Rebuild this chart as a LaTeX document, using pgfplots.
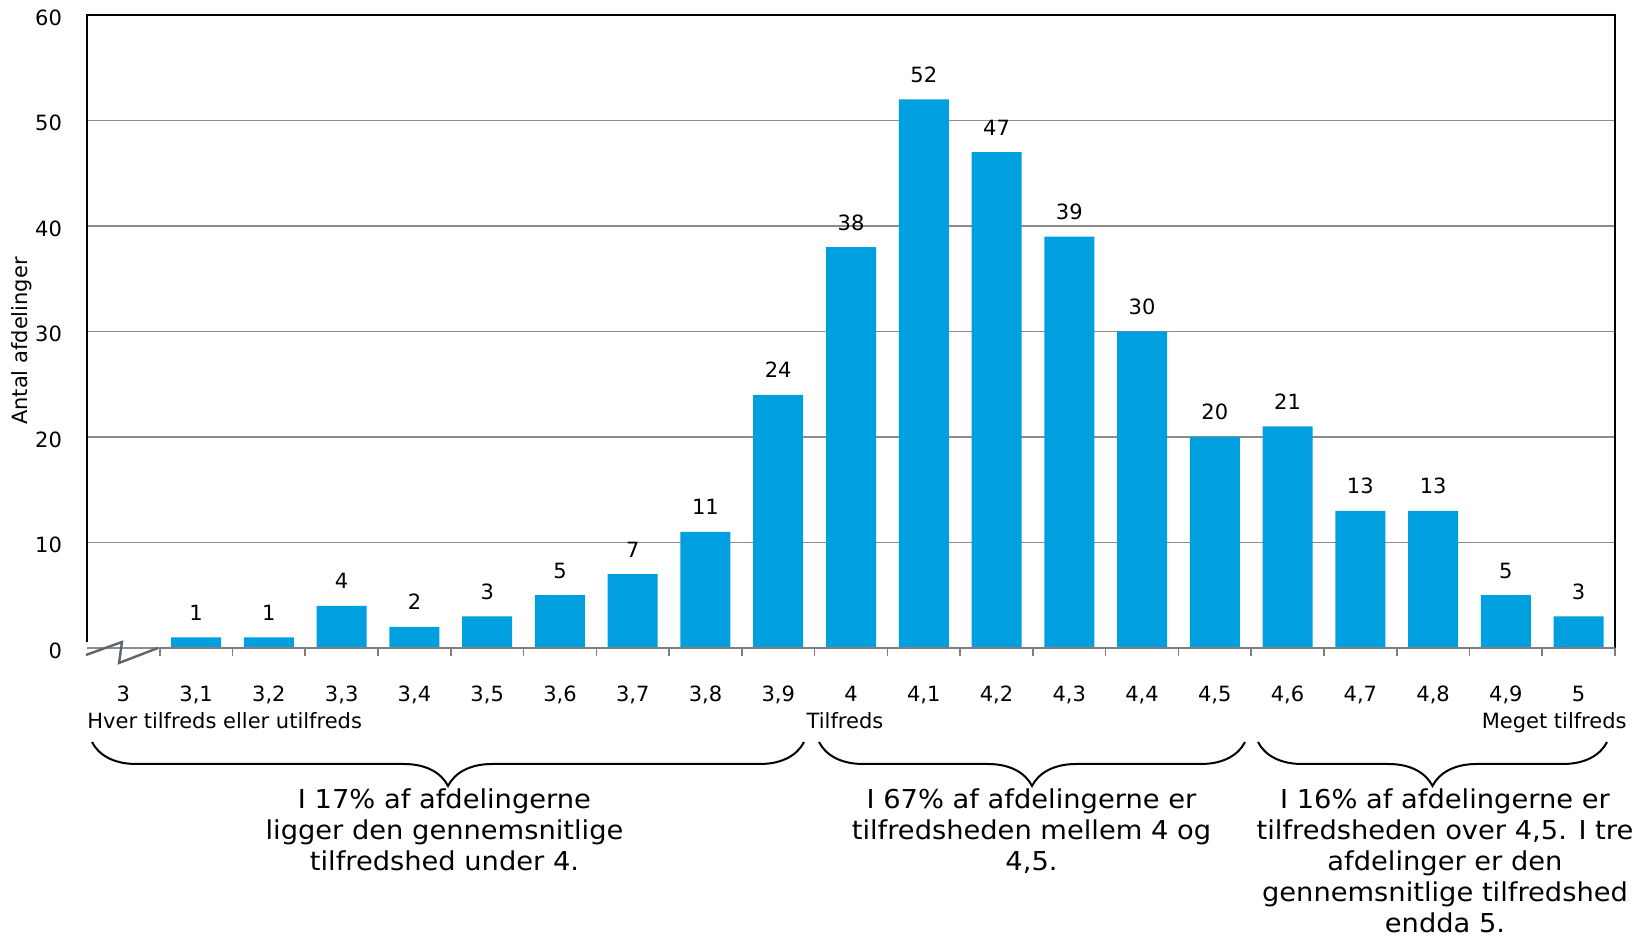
\documentclass[border=0pt]{standalone}
\usepackage{fontspec}
\setmainfont{DejaVu Sans}
\newfontfamily\widefont{DejaVu Sans}[FakeStretch=1.05]
\usepackage{pgfplots}
\pgfplotsset{compat=1.18}
\usetikzlibrary{decorations.pathreplacing}
\definecolor{barblue}{HTML}{009FDF}
\definecolor{gridgray}{HTML}{8C8C8C}
\definecolor{axgray}{HTML}{7F7F7F}
\definecolor{zig}{HTML}{5B6670}
\newcommand{\smallf}{\fontsize{10.5}{12}\selectfont}
\newcommand{\bigf}{\widefont\fontsize{13}{15}\selectfont}
\begin{document}
\begin{tikzpicture}
\useasboundingbox (-43.5pt,-146pt) rectangle (778pt,324pt);
\begin{axis}[
 name=ax,
 at={(0pt,0pt)}, anchor=south west,
 scale only axis, width=764pt, height=316.5pt,
 xmin=-0.5, xmax=20.5, ymin=0, ymax=60,
 ytick={0,10,...,60},
 ymajorgrids, grid style={gridgray, line width=0.8pt},
 axis line style={draw=none},
 xtick={0,...,20},
 xticklabels={3,{3,1},{3,2},{3,3},{3,4},{3,5},{3,6},{3,7},{3,8},{3,9},4,{4,1},{4,2},{4,3},{4,4},{4,5},{4,6},{4,7},{4,8},{4,9},5},
 minor xtick={0.5,1.5,...,20.5},
 major x tick style={draw=none},
 minor x tick style={axgray, line width=0.8pt},
 minor tick length=4pt,
 major tick length=0pt,
 tick align=outside,
 xtick pos=bottom,
 ytick pos=left,
 ytick style={draw=none},
 /pgf/number format/assume math mode=true,
 tick label style={font=\smallf, text=black},
 xticklabel style={anchor=base, yshift=-27pt},
 yticklabel style={anchor=east, xshift=-9pt, yshift=-1.2pt},
 ylabel={Antal afdelinger},
 ylabel style={at={(axis description cs:-0.0425,0.485)}, anchor=center, font=\smallf},
 clip=false,
 nodes near coords,
 every node near coord/.append style={anchor=base, yshift=8.5pt, font=\smallf, text=black},
]
\addplot[ybar, bar width=25pt, fill=barblue, draw=none] coordinates {
 (1,1) (2,1) (3,4) (4,2) (5,3) (6,5) (7,7) (8,11) (9,24) (10,38)
 (11,52) (12,47) (13,39) (14,30) (15,20) (16,21) (17,13) (18,13) (19,5) (20,3)};
\draw[black, line width=1pt] (axis cs:-0.5,0.6) -- (rel axis cs:0,1) -- (rel axis cs:1,1) -- (rel axis cs:1,0);
\draw[axgray, line width=1pt] (axis cs:0.5,0) -- (axis cs:20.5,0);
\draw[zig, line width=1.2pt] (axis cs:-0.514,-0.66) -- (axis cs:-0.019,0.57) -- (axis cs:-0.060,-1.42) -- (axis cs:0.476,0);
\end{axis}
% category descriptors
\node[font=\smallf, inner sep=0pt, anchor=base west] at (0pt,-40.5pt) {Hver tilfreds eller utilfreds};
\node[font=\smallf, inner sep=0pt, anchor=base] at (379pt,-40.5pt) {Tilfreds};
\node[font=\smallf, inner sep=0pt, anchor=base east] at (770pt,-40.5pt) {Meget tilfreds};
% braces
\draw[decorate, decoration={brace, mirror, amplitude=22pt}, line width=1pt] (2.5pt,-47pt) -- (358.5pt,-47pt);
\draw[decorate, decoration={brace, mirror, amplitude=22pt}, line width=1pt] (366pt,-47pt) -- (579pt,-47pt);
\draw[decorate, decoration={brace, mirror, amplitude=22pt}, line width=1pt] (585.5pt,-47pt) -- (760pt,-47pt);
% annotations
\begin{scope}[every node/.style={font=\bigf, inner sep=0pt, anchor=base}]
\node at (178.75pt,-80.5pt) {I 17\% af afdelingerne};
\node at (178.75pt,-96pt) {ligger den gennemsnitlige};
\node at (178.75pt,-111.5pt) {tilfredshed under 4.};
\node at (472.25pt,-80.5pt) {I 67\% af afdelingerne er};
\node at (472.25pt,-96pt) {tilfredsheden mellem 4 og};
\node at (472.25pt,-111.5pt) {4,5.};
\node at (679pt,-80.5pt) {I 16\% af afdelingerne er};
\node at (679pt,-96pt) {tilfredsheden over 4,5. I tre};
\node at (679pt,-111.5pt) {afdelinger er den};
\node at (679pt,-127pt) {gennemsnitlige tilfredshed};
\node at (679pt,-142.5pt) {endda 5.};
\end{scope}
\end{tikzpicture}
\end{document}
